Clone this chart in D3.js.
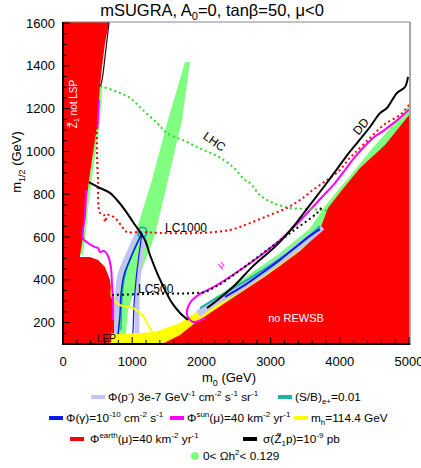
<!DOCTYPE html>
<html>
<head>
<meta charset="utf-8">
<script src="https://d3js.org/d3.v7.min.js"></script>
<style>
  body { margin: 0; background: #fff; }
  svg { font-family: "Liberation Sans", Arial, sans-serif; }
</style>
</head>
<body>
<svg id="chart" width="421" height="468"></svg>
<script>
// Axis ticks
const xTicks = [0, 1000, 2000, 3000, 4000, 5000];
const yTicks = [200, 400, 600, 800, 1000, 1200, 1400, 1600];

// Regions, [m0, m1/2] in GeV
const noLspRegion = [[0,1605],[665,1605],[607,1507],[563,1394],[535,1306],[491,1114],[433,993],[376,866],
  [318,712],[289,600],[246,516],[246,507],[390,507],[506,493],[607,460],[679,399],[708,320],[723,245],
  [708,165],[679,100],[0,100]];
const rewsbEdge = [[5000,1170],[4653,1030],[4292,922],[4032,820],[3829,736],[3743,661],[3685,614],
  [3425,534],[3092,455],[2890,408],[2558,338],[2124,245],[1907,198],[1691,142],[1431,100]];
const higgsEdge = [[607,142],[1329,156],[1691,198],[2124,292],[2558,366],[2847,422],[3136,488],
  [3425,553],[3685,623],[3771,661]];
const relicBand = [[1763,1418],[1517,1147],[1286,866],[1040,609],[795,399],[708,259],[694,100],
  [896,100],[939,259],[1084,399],[1329,609],[1517,866],[1720,1147],[1835,1418]];
const relicEdge = [[1980,273],[2558,394],[3136,525],[3569,640],[3786,745],[4075,857],[4465,1012],
  [4870,1161],[5000,1214]];
const relicStrip = [[549,1306],[506,1123],[448,993],[390,866],[333,712],[304,600],[260,516]];

// Contours
const lhcReach = [[535,1306],[751,1282],[968,1250],[1156,1193],[1358,1133],[1503,1086],[1792,1044],
  [2023,1007],[2225,979],[2457,927],[2630,866],[2702,852],[2847,796],[3035,759],[3280,736],[3526,731],
  [3757,726],[3829,721]];
const lc1000 = [[491,1137],[491,1007],[506,866],[535,712],[592,703],[607,670],[650,703],[751,689],
  [867,642],[925,623],[1113,623],[1402,619],[1980,619],[2413,633],[2702,665],[2991,703],[3237,736],
  [3425,773],[3613,820],[3815,866],[4003,913],[4118,960],[4219,993],[4436,1063],[4653,1128],
  [4870,1170],[5000,1217]];
const lc500 = [[708,329],[1257,334],[1907,338],[2052,343],[2196,366],[2341,394],[2601,455],[2991,549],
  [3324,628],[3670,712],[3743,740]];
const ddLeft = [[376,857],[535,829],[679,806],[780,773],[896,726],[1012,670],[1113,623],[1185,586],
  [1257,516],[1373,422],[1474,352],[1575,292],[1691,245],[1806,212]];
const ddRight = [[2081,268],[2269,315],[2485,376],[2746,464],[3092,563],[3381,670],[3569,750],
  [3757,829],[3930,904],[4075,969],[4248,1039],[4436,1114],[4581,1179],[4682,1203],[4826,1273],
  [4942,1301],[4985,1348]];
const ddTop = [[666,1605],[610,1450],[568,1340],[543,1306]];
const sunLeft = [[333,820],[318,703],[289,595],[361,572],[462,553],[506,549],[535,530],[592,535],
  [650,511],[694,455],[708,376],[723,306],[723,212]];
const sunTop = [[520,1240],[498,1110]];
const sunRight = [[2052,222],[1879,203],[1792,236],[1835,292],[1980,334],[2153,362],[2341,399],
  [2601,455],[2847,511],[3136,586],[3381,661],[3569,726],[3743,787],[3930,852],[4075,913],[4219,974],
  [4335,1016],[4480,1063],[4624,1095],[4826,1145],[5000,1195]];
const gammaLeft = [[1142,619],[997,516],[881,422],[838,329],[824,236],[795,142],[780,100]];
const gammaRight = [[1142,619],[1098,516],[1055,399],[1026,282],[1012,165],[997,100]];
const gammaBand = [[2341,320],[2630,376],[2875,432],[3136,493],[3381,558],[3569,605],[3714,637]];
const pbarLeft = [[1113,642],[939,516],[824,422],[780,306],[766,100]];
const pbarRight = [[1171,614],[1127,516],[1084,399],[1069,259],[1069,100]];
const pbarBand = [[1951,240],[2196,296],[2558,362],[2919,441],[3280,525],[3569,600],[3743,647]];
const positronApex = [[1084,609],[1113,642],[1185,642],[1214,623],[1185,605],[1113,600],[1084,609]];
const positronLeft = [[1113,600],[968,497],[881,399],[852,306],[838,165]];
const positronBand = [[1980,268],[2341,338],[2702,408],[3064,483],[3425,567],[3714,651]];
const earthLine = [[723,236],[723,151]];
const higgsLine = [[708,366],[708,320],[824,282],[1012,268],[1142,236],[1228,189],[1301,151]];

const colors = {
  red: '#ff0000',
  yellow: '#ffff00',
  green: '#80ff80',
  lavender: '#c4c4f2',
  teal: '#1fb0a6',
  blue: '#0a1ee6',
  magenta: '#ff00ff',
  black: '#000000'
};

const svg = d3.select('#chart');
const margin = { left: 63, right: 409, top: 22, bottom: 344 };

const x = d3.scaleLinear().domain([0, 5000]).range([margin.left, margin.right]);
const y = d3.scaleLinear().domain([100, 1600]).range([margin.bottom, 23]);

svg.append('defs').append('clipPath').attr('id', 'plotClip')
  .append('rect')
  .attr('x', margin.left).attr('y', margin.top)
  .attr('width', margin.right - margin.left).attr('height', margin.bottom - margin.top);

const plot = svg.append('g').attr('clip-path', 'url(#plotClip)');
const line = d3.line().x(d => x(d[0])).y(d => y(d[1]));
const lineCurve = d3.line().x(d => x(d[0])).y(d => y(d[1])).curve(d3.curveCatmullRom);

function area(pts, fill) {
  plot.append('path').attr('d', line(pts) + 'Z').attr('fill', fill).attr('stroke', 'none');
}
function stroke(pts, color, width, dash, curved) {
  plot.append('path')
    .attr('d', (curved ? lineCurve : line)(pts))
    .attr('fill', 'none')
    .attr('stroke', color)
    .attr('stroke-width', width)
    .attr('stroke-dasharray', dash || null)
    .attr('stroke-linejoin', 'round');
}

// Filled regions
area(relicBand, colors.green);
area(relicEdge.concat([[5000, 100], [1980, 100]]), colors.green);
stroke(relicStrip, colors.green, 3);

// Antiproton / positron / gamma lines around the funnel
stroke(pbarLeft, colors.lavender, 5, null, true);
stroke(pbarRight, colors.lavender, 5, null, true);
stroke(positronApex, colors.teal, 2, null, true);
stroke(positronLeft, colors.teal, 1.5, null, true);
stroke(gammaLeft, colors.blue, 1.5, null, true);
stroke(gammaRight, colors.blue, 1.2, null, true);

// Higgs mass bound, then unphysical regions on top
area(higgsEdge.concat([[3850, 100], [607, 100]]), colors.yellow);
area(rewsbEdge.concat([[5000, 100]]), colors.red);
area(noLspRegion, colors.red);

// Focus-point band
stroke(pbarBand, colors.lavender, 7, null, true);
stroke(positronBand, colors.teal, 2, null, true);
stroke(gammaBand, colors.blue, 2, null, true);
stroke(higgsLine, colors.yellow, 2, null, true);
stroke(earthLine, colors.red, 2);
stroke(sunLeft, colors.magenta, 2, null, true);
stroke(sunTop, colors.magenta, 2);
stroke(sunRight, colors.magenta, 2, null, true);
stroke(lhcReach, '#22dd22', 2, '2,3', true);
stroke(lc1000, colors.red, 2, '2,3', true);
stroke(lc500, colors.black, 2, '2,3', true);
stroke(ddLeft, colors.black, 2, null, true);
stroke(ddRight, colors.black, 2, null, true);
stroke(ddTop, '#300020', 1.2, null, true);

// Region labels
svg.append('text').attr('x', 296).attr('y', 322).attr('text-anchor', 'middle')
  .attr('fill', '#fff').attr('font-size', 11).text('no REWSB');
svg.append('text').attr('transform', 'translate(77,104) rotate(-90)').attr('text-anchor', 'middle')
  .attr('fill', '#fff').attr('font-size', 10)
  .html('Z&#x0303;<tspan font-size="7" dy="2">1</tspan><tspan dy="-2"> not LSP</tspan>');
svg.append('text').attr('x', 97).attr('y', 342).attr('font-size', 10).text('LEP');
svg.append('text').attr('x', 165).attr('y', 232).attr('font-size', 12).text('LC1000');
svg.append('text').attr('x', 138).attr('y', 293).attr('font-size', 12).text('LC500');
svg.append('text').attr('transform', 'translate(212,145) rotate(35)').attr('text-anchor', 'middle')
  .attr('font-size', 12).text('LHC');
svg.append('text').attr('transform', 'translate(364,129) rotate(-50)').attr('text-anchor', 'middle')
  .attr('font-size', 12).text('DD');
svg.append('text').attr('transform', 'translate(223,267) rotate(-40)').attr('text-anchor', 'middle')
  .attr('fill', colors.magenta).attr('font-size', 10).text('μ');

// Frame
svg.append('line').attr('x1', margin.left).attr('x2', margin.right + 1)
  .attr('y1', margin.top).attr('y2', margin.top).attr('stroke', '#888').attr('stroke-width', 1.2);
svg.append('line').attr('x1', margin.right + 1).attr('x2', margin.right + 1)
  .attr('y1', margin.top).attr('y2', margin.bottom + 1).attr('stroke', '#888').attr('stroke-width', 1.5);

// Axes with inward ticks
const yAxis = svg.append('g').attr('transform', `translate(${margin.left},0)`);
yAxis.append('line').attr('y1', margin.top).attr('y2', margin.bottom + 1).attr('stroke', '#000').attr('stroke-width', 2);
d3.range(100, 1601, 50).forEach(v => {
  const major = v % 200 === 0;
  yAxis.append('line').attr('x1', 0).attr('x2', major ? 7 : 4)
    .attr('y1', y(v)).attr('y2', y(v)).attr('stroke', '#000').attr('stroke-width', 1);
});
yTicks.forEach(v => {
  yAxis.append('text').attr('x', -8).attr('y', y(v) + 4.5).attr('text-anchor', 'end')
    .attr('font-size', 13).text(v);
});

const xAxis = svg.append('g').attr('transform', `translate(0,${margin.bottom})`);
xAxis.append('line').attr('x1', margin.left).attr('x2', margin.right + 1).attr('stroke', '#000').attr('stroke-width', 2);
d3.range(0, 5001, 200).forEach(v => {
  const major = v % 1000 === 0;
  xAxis.append('line').attr('x1', x(v)).attr('x2', x(v))
    .attr('y1', 0).attr('y2', major ? -7 : -4).attr('stroke', '#000').attr('stroke-width', 1);
});
xTicks.forEach(v => {
  xAxis.append('text').attr('x', x(v)).attr('y', 22).attr('text-anchor', 'middle')
    .attr('font-size', 13).text(v);
});

// Titles
svg.append('text').attr('x', 212).attr('y', 16).attr('text-anchor', 'middle').attr('font-size', 16.5)
  .html('mSUGRA, A<tspan font-size="11" dy="4">0</tspan><tspan dy="-4">=0, tanβ=50, μ&lt;0</tspan>');
svg.append('text').attr('x', 229).attr('y', 382).attr('text-anchor', 'middle').attr('font-size', 13)
  .html('m<tspan font-size="9" dy="4">0</tspan><tspan dy="-4"> (GeV)</tspan>');
svg.append('text').attr('transform', 'translate(21,162) rotate(-90)').attr('text-anchor', 'middle')
  .attr('font-size', 13)
  .html('m<tspan font-size="9" dy="4">1/2</tspan><tspan dy="-4"> (GeV)</tspan>');

// Legend
const legendItems = [
  { x: 91, y: 397, color: colors.lavender, html: 'Φ(p<tspan font-size="8" dy="-5">-</tspan><tspan dy="5">) 3e-7 GeV</tspan><tspan font-size="8" dy="-5">-1</tspan><tspan dy="5"> cm</tspan><tspan font-size="8" dy="-5">-2</tspan><tspan dy="5"> s</tspan><tspan font-size="8" dy="-5">-1</tspan><tspan dy="5"> sr</tspan><tspan font-size="8" dy="-5">-1</tspan>' },
  { x: 278, y: 397, color: colors.teal, html: '(S/B)<tspan font-size="8" dy="3">e+</tspan><tspan dy="-3">=0.01</tspan>' },
  { x: 49, y: 418, color: colors.blue, html: 'Φ(γ)=10<tspan font-size="8" dy="-5">-10</tspan><tspan dy="5"> cm</tspan><tspan font-size="8" dy="-5">-2</tspan><tspan dy="5"> s</tspan><tspan font-size="8" dy="-5">-1</tspan>' },
  { x: 170, y: 418, color: colors.magenta, html: 'Φ<tspan font-size="8" dy="-5">sun</tspan><tspan dy="5">(μ)=40 km</tspan><tspan font-size="8" dy="-5">-2</tspan><tspan dy="5"> yr</tspan><tspan font-size="8" dy="-5">-1</tspan>' },
  { x: 294, y: 418, color: colors.yellow, html: 'm<tspan font-size="8" dy="3">h</tspan><tspan dy="-3">=114.4 GeV</tspan>' },
  { x: 70, y: 439, color: colors.red, html: 'Φ<tspan font-size="8" dy="-5">earth</tspan><tspan dy="5">(μ)=40 km</tspan><tspan font-size="8" dy="-5">-2</tspan><tspan dy="5"> yr</tspan><tspan font-size="8" dy="-5">-1</tspan>', gap: 20 },
  { x: 243, y: 439, color: colors.black, html: 'σ(Z&#x0303;<tspan font-size="8" dy="3">1</tspan><tspan dy="-3">p)=10</tspan><tspan font-size="8" dy="-5">-9</tspan><tspan dy="5"> pb</tspan>', gap: 20 }
];
legendItems.forEach(d => {
  svg.append('rect').attr('x', d.x).attr('y', d.y - 2).attr('width', 14).attr('height', 4).attr('fill', d.color);
  svg.append('text').attr('x', d.x + (d.gap || 17)).attr('y', d.y + 4).attr('font-size', 11.8).html(d.html);
});
svg.append('circle').attr('cx', 195).attr('cy', 456).attr('r', 4).attr('fill', colors.green);
svg.append('text').attr('x', 203).attr('y', 460).attr('font-size', 11.8)
  .html('0&lt; Ωh<tspan font-size="8" dy="-5">2</tspan><tspan dy="5">&lt; 0.129</tspan>');
</script>
</body>
</html>
